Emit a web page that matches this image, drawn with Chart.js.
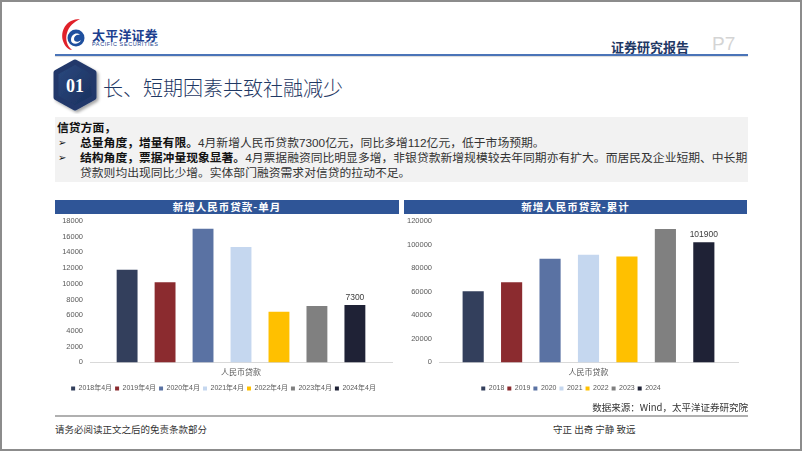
<!DOCTYPE html>
<html>
<head>
<meta charset="utf-8">
<script src="https://cdn.jsdelivr.net/npm/chart.js@4.4.1/dist/chart.umd.min.js"></script>
<style>
  html, body { margin: 0; padding: 0; background: #fff; }
  body { width: 802px; height: 451px; position: relative; overflow: hidden;
         font-family: "Noto Sans CJK SC", "Noto Sans", sans-serif; }
  .frame { position: absolute; left: 0; top: 0; width: 798px; height: 447px; border: 2px solid #8c8c8c; }
  .abs { position: absolute; white-space: nowrap; }
  .topline { left: 55px; top: 54px; width: 693px; height: 2px; background: #4a74b8; box-shadow: 0 1px 1px rgba(0,0,0,0.15); }
  .brand { left: 92px; top: 25px; font-size: 13px; font-weight: bold; color: #1d3f8f; letter-spacing: 0.2px; }
  .brand-en { left: 92px; top: 41px; font-size: 5.5px; color: #1d3f8f; letter-spacing: 0.6px; font-family: "Liberation Sans", sans-serif; }
  .report { left: 611px; top: 37px; font-size: 13px; font-weight: bold; color: #1f3864; }
  .page { left: 712px; top: 33px; font-size: 19px; color: #d4d4d4; font-family: "Liberation Sans", sans-serif; }
  .title { left: 103px; top: 73px; font-size: 20px; color: #1f3864; font-weight: 300; }
  .box { left: 55px; top: 117px; width: 693px; height: 65px; background: #f2f2f2; }
  .line { font-size: 11.8px; color: #333; }
  .line b { color: #111; }
  .num { font-family: "Liberation Sans Narrow", "Liberation Sans", sans-serif; }
  .arrow { font-size: 10px; color: #111; }
  .bar-title { height: 14px; background: #2f5597; color: #fff; font-size: 10.5px; font-weight: bold;
               text-align: center; line-height: 14px; letter-spacing: 1px; }
  .chart-box { position: absolute; }
  .source { right: 54px; top: 400px; font-size: 9.5px; color: #333; }
  .bottomline { left: 55px; top: 415px; width: 693px; height: 2px; background: #b0b0b0; }
  .foot { top: 422px; font-size: 9.5px; color: #333; }
</style>
</head>
<body>
<div class="frame"></div>

<svg class="abs" style="left:60px;top:17px" width="30" height="34" viewBox="0 0 30 34">
  <path d="M20 2 C6 2 0 14 3 24 C5 30 9 33 12 33 C7 29 5 22 7 16 C9 9 14 5 20 2 Z" fill="#e0212a"/>
  <circle cx="16" cy="21" r="8.5" fill="#1e4f9e"/>
  <path d="M11 23 C11 17 17 15 20 18 C17 17 14 19 14 22 C14 25 18 26 21 23 C19 28 11 28 11 23 Z" fill="#fff"/>
</svg>
<div class="abs brand">太平洋证券</div>
<div class="abs brand-en">PACIFIC SECURITIES</div>
<div class="abs report">证券研究报告</div>
<div class="abs page">P7</div>
<div class="abs topline"></div>

<svg class="abs" style="left:50px;top:58px" width="54" height="56" viewBox="0 0 54 56">
  <defs>
    <linearGradient id="hg" x1="0" y1="0" x2="1" y2="1">
      <stop offset="0" stop-color="#2c4a80"/>
      <stop offset="1" stop-color="#1a2f5c"/>
    </linearGradient>
    <filter id="sh" x="-20%" y="-20%" width="150%" height="150%">
      <feDropShadow dx="2" dy="2" stdDeviation="1.6" flood-color="#000" flood-opacity="0.35"/>
    </filter>
  </defs>
  <polygon points="25,4 44,14.5 44,39.5 25,50 6,39.5 6,14.5" fill="url(#hg)" stroke="#22396b"
           stroke-width="5" stroke-linejoin="round" filter="url(#sh)"/>
  <text x="25" y="34" text-anchor="middle" fill="#fff" font-size="18" font-weight="bold"
        font-family="Liberation Serif, DejaVu Serif, serif">01</text>
</svg>
<div class="abs title">长、短期因素共致社融减少</div>

<div class="abs box"></div>
<div class="abs line" style="left:57px;top:118px"><b>信贷方面，</b></div>
<div class="abs arrow" style="left:58px;top:134px">➢</div>
<div class="abs line" style="left:80px;top:133px"><b>总量角度，增量有限。</b><span class="num">4</span>月新增人民币贷款<span class="num">7300</span>亿元，同比多增<span class="num">112</span>亿元，低于市场预期。</div>
<div class="abs arrow" style="left:58px;top:149px">➢</div>
<div class="abs line" style="left:80px;top:148px"><b>结构角度，票据冲量现象显著。</b><span class="num">4</span>月票据融资同比明显多增，非银贷款新增规模较去年同期亦有扩大。而居民及企业短期、中长期</div>
<div class="abs line" style="left:80px;top:163px">贷款则均出现同比少增。实体部门融资需求对信贷的拉动不足。</div>

<div class="abs bar-title" style="left:55px;top:200px;width:344px">新增人民币贷款-单月</div>
<div class="abs bar-title" style="left:404px;top:200px;width:343px">新增人民币贷款-累计</div>

<div class="chart-box" style="left:55px;top:214px;width:344px;height:188px"><canvas id="monthChart"></canvas></div>
<div class="chart-box" style="left:404px;top:214px;width:343px;height:188px"><canvas id="cumChart"></canvas></div>

<div class="abs source">数据来源：Wind，太平洋证券研究院</div>
<div class="abs bottomline"></div>
<div class="abs foot" style="left:55px">请务必阅读正文之后的免责条款部分</div>
<div class="abs foot" style="left:553px">守正 出奇 宁静 致远</div>

<script>
// data
var categories = ['人民币贷款'];
var monthLabels = ['2018年4月', '2019年4月', '2020年4月', '2021年4月', '2022年4月', '2023年4月', '2024年4月'];
var yearLabels = ['2018', '2019', '2020', '2021', '2022', '2023', '2024'];
var monthlyLoans = [11800, 10200, 17000, 14700, 6454, 7188, 7300];
var cumulativeLoans = [60400, 68000, 88000, 91400, 89900, 113200, 101900];
var barColors = ['#333f5c', '#8b2b2f', '#5a72a3', '#c5d7ef', '#ffc000', '#808080', '#1f2236'];

var narrow = '"Liberation Sans Narrow", "Liberation Sans", "Noto Sans CJK SC", sans-serif';
Chart.defaults.font.family = narrow;
Chart.defaults.color = '#595959';

// value label over the last bar only
var lastLabel = {
    id: 'lastLabel',
    afterDatasetsDraw: function (chart) {
        var ctx = chart.ctx;
        var i = chart.data.datasets.length - 1;
        var bar = chart.getDatasetMeta(i).data[0];
        ctx.save();
        ctx.font = '8.5px ' + narrow;
        ctx.fillStyle = '#404040';
        ctx.textAlign = 'center';
        ctx.textBaseline = 'bottom';
        ctx.fillText(String(chart.data.datasets[i].data[0]), bar.x, bar.y - 3);
        ctx.restore();
    }
};

function makeDatasets(labels, values, catPct) {
    return labels.map(function (name, i) {
        return {
            label: name,
            data: [values[i]],
            backgroundColor: barColors[i],
            categoryPercentage: catPct,
            barPercentage: 0.55
        };
    });
}

function makeOptions(maxY, step, rightPad) {
    return {
        responsive: true,
        maintainAspectRatio: false,
        animation: false,
        layout: { padding: { top: 7, right: rightPad, left: 0, bottom: 0 } },
        scales: {
            x: {
                grid: { display: false, drawTicks: false },
                border: { color: '#d9d9d9' },
                ticks: { font: { size: 8, family: '"Noto Sans CJK SC", sans-serif' }, color: '#595959', padding: 5 }
            },
            y: {
                min: 0,
                max: maxY,
                ticks: {
                    stepSize: step,
                    autoSkip: false,
                    padding: 7,
                    font: { size: 7.5 },
                    color: '#595959',
                    callback: function (v) { return String(v); }
                },
                grid: { display: false, drawTicks: false },
                border: { display: false },
                afterFit: function (s) { s.width = 35; s.paddingTop = 0; }
            }
        },
        plugins: {
            legend: {
                position: 'bottom',
                labels: { boxWidth: 4, boxHeight: 4, padding: 3, font: { size: 7, lineHeight: 2.7 }, color: '#595959' }
            },
            tooltip: { enabled: false }
        }
    };
}

var ctxMonth = document.getElementById('monthChart').getContext('2d');
var monthChart = new Chart(ctxMonth, {
    type: 'bar',
    data: { labels: categories, datasets: makeDatasets(monthLabels, monthlyLoans, 0.88) },
    options: makeOptions(18000, 2000, 7),
    plugins: [lastLabel]
});

var ctxCum = document.getElementById('cumChart').getContext('2d');
var cumChart = new Chart(ctxCum, {
    type: 'bar',
    data: { labels: categories, datasets: makeDatasets(yearLabels, cumulativeLoans, 0.9) },
    options: makeOptions(120000, 20000, 9),
    plugins: [lastLabel]
});
</script>
</body>
</html>
